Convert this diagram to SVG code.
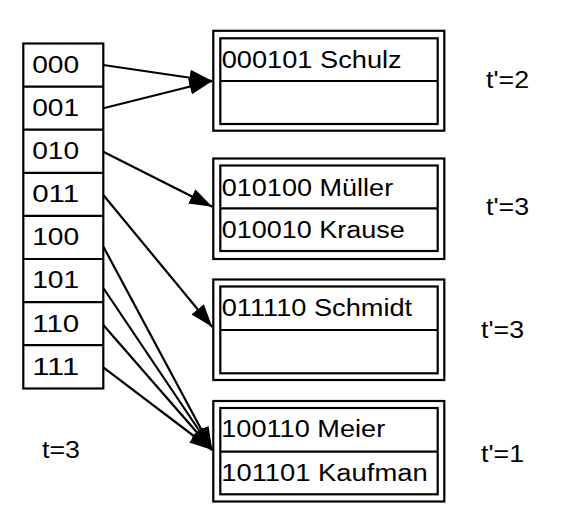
<svg xmlns="http://www.w3.org/2000/svg" width="567" height="531" viewBox="0 0 567 531">
<style>
.box{fill:none;stroke:#000;stroke-width:2.2}
.ln{fill:none;stroke:#000;stroke-width:2.2}
.conn{stroke:#000;stroke-width:2.2;fill:none;marker-end:url(#ah)}
text{font-family:"Liberation Sans",Arial,sans-serif;fill:#000}
.dir{font-size:24.5px}
.rec{font-size:23.3px}
.lbl{font-size:23px}
</style>
<defs>
<marker id="ah" markerUnits="userSpaceOnUse" markerWidth="23" markerHeight="16" refX="23" refY="8" orient="auto" viewBox="0 0 23 16">
<path d="M0,0 L23,8 L0,16 z" fill="#000"/>
</marker>
</defs>
<rect width="567" height="531" fill="#fff"/>
<g id="directory">
<rect class="box" x="23.3" y="43.5" width="80" height="345"/>
<path class="ln" d="M23.3,86.6H103.3M23.3,129.7H103.3M23.3,172.8H103.3M23.3,215.9H103.3M23.3,259H103.3M23.3,302.1H103.3M23.3,345.2H103.3"/>
<text class="dir" x="32.2" y="72.7" textLength="47" lengthAdjust="spacingAndGlyphs">000</text>
<text class="dir" x="32.2" y="115.6" textLength="47" lengthAdjust="spacingAndGlyphs">001</text>
<text class="dir" x="32.2" y="158.6" textLength="47" lengthAdjust="spacingAndGlyphs">010</text>
<text class="dir" x="32.2" y="202" textLength="47" lengthAdjust="spacingAndGlyphs">011</text>
<text class="dir" x="32.2" y="245" textLength="47" lengthAdjust="spacingAndGlyphs">100</text>
<text class="dir" x="32.2" y="288.3" textLength="47" lengthAdjust="spacingAndGlyphs">101</text>
<text class="dir" x="32.2" y="331.5" textLength="47" lengthAdjust="spacingAndGlyphs">110</text>
<text class="dir" x="32.2" y="374.5" textLength="47" lengthAdjust="spacingAndGlyphs">111</text>
</g>
<g id="t-global">
<text class="lbl" x="42" y="458.3" textLength="38" lengthAdjust="spacingAndGlyphs">t=3</text>
</g>
<g id="bucket1">
<rect class="box" x="213.3" y="30.8" width="231" height="99.9"/>
<rect class="box" x="220.3" y="38.3" width="217.4" height="85.7"/>
<path class="ln" d="M220.3,81H437.7"/>
<text class="rec" x="221.7" y="68.3" textLength="180" lengthAdjust="spacingAndGlyphs">000101 Schulz</text>
<text class="lbl" x="486" y="88.3" textLength="43" lengthAdjust="spacingAndGlyphs">t'=2</text>
</g>
<g id="bucket2">
<rect class="box" x="213.3" y="158.5" width="231" height="100.5"/>
<rect class="box" x="220.3" y="165.5" width="217.4" height="85.5"/>
<path class="ln" d="M220.3,208.3H437.7"/>
<text class="rec" x="221.7" y="195.7" textLength="171.5" lengthAdjust="spacingAndGlyphs">010100 Müller</text>
<text class="rec" x="221.7" y="238.3" textLength="183" lengthAdjust="spacingAndGlyphs">010010 Krause</text>
<text class="lbl" x="486" y="215" textLength="43" lengthAdjust="spacingAndGlyphs">t'=3</text>
</g>
<g id="bucket3">
<rect class="box" x="213.3" y="279.5" width="231" height="100.5"/>
<rect class="box" x="220.3" y="286.5" width="217.4" height="86.8"/>
<path class="ln" d="M220.3,330H437.7"/>
<text class="rec" x="221.7" y="315.7" textLength="190.5" lengthAdjust="spacingAndGlyphs">011110 Schmidt</text>
<text class="lbl" x="481" y="338.3" textLength="43" lengthAdjust="spacingAndGlyphs">t'=3</text>
</g>
<g id="bucket4">
<rect class="box" x="213.3" y="401" width="231" height="100.5"/>
<rect class="box" x="220.3" y="408" width="217.4" height="86.3"/>
<path class="ln" d="M220.3,451.7H437.7"/>
<text class="rec" x="221.2" y="437.3" textLength="164" lengthAdjust="spacingAndGlyphs">100110 Meier</text>
<text class="rec" x="221.2" y="480.7" textLength="206.5" lengthAdjust="spacingAndGlyphs">101101 Kaufman</text>
<text class="lbl" x="481" y="461.7" textLength="43" lengthAdjust="spacingAndGlyphs">t'=1</text>
</g>
<g id="connectors">
<line class="conn" x1="103.3" y1="65" x2="212.3" y2="81"/>
<line class="conn" x1="103.3" y1="108.3" x2="212.3" y2="81"/>
<line class="conn" x1="103.3" y1="151.7" x2="212.3" y2="206.7"/>
<line class="conn" x1="103.3" y1="195" x2="212.3" y2="327"/>
<line class="conn" x1="103.3" y1="246.5" x2="212.3" y2="450"/>
<line class="conn" x1="103.3" y1="288" x2="212.3" y2="450"/>
<line class="conn" x1="103.3" y1="325" x2="212.3" y2="450"/>
<line class="conn" x1="103.3" y1="367.3" x2="212.3" y2="450"/>
</g>
</svg>
